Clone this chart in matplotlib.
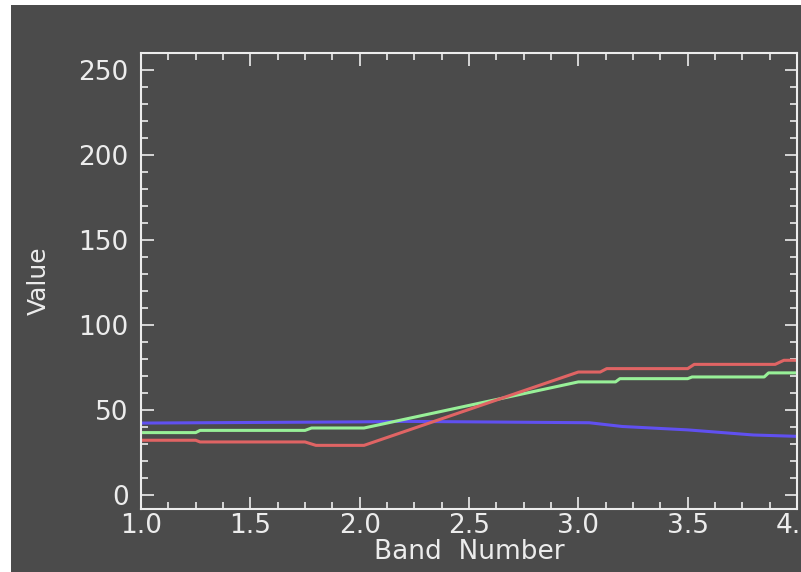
import matplotlib
matplotlib.use("Agg")
import matplotlib.pyplot as plt
from matplotlib.patches import Rectangle
from matplotlib.ticker import MultipleLocator

# spectral profiles
red_x = [1.0, 1.25, 1.27, 1.75, 1.8, 2.02, 3.0, 3.1, 3.13, 3.5, 3.53, 3.9, 3.94, 4.0]
red_y = [32.4, 32.4, 31.4, 31.4, 29.4, 29.4, 72.5, 72.5, 74.5, 74.5, 77.0, 77.0, 79.4, 79.4]

green_x = [1.0, 1.25, 1.27, 1.75, 1.78, 2.02, 3.0, 3.17, 3.19, 3.5, 3.52, 3.85, 3.87, 4.0]
green_y = [36.9, 36.9, 38.2, 38.2, 39.6, 39.6, 66.7, 66.7, 68.6, 68.6, 69.6, 69.6, 72.0, 72.0]

blue_x = [1.0, 2.0, 2.2, 3.05, 3.2, 3.5, 3.8, 4.0]
blue_y = [42.5, 43.2, 43.5, 42.7, 40.5, 38.5, 35.5, 34.7]

bg = '#4b4b4b'
fg = '#ececec'

fig = plt.figure(figsize=(8.01, 5.72), dpi=100)
fig.patch.set_facecolor('white')
fig.patches.append(Rectangle((11 / 801, 0), 790 / 801, 567 / 572,
                             transform=fig.transFigure, facecolor=bg,
                             edgecolor='none', zorder=0))

ax = fig.add_axes([141 / 801, 63 / 572, 656 / 801, 456 / 572])
ax.set_zorder(2)
ax.set_facecolor(bg)

ax.plot(blue_x, blue_y, color='#6050f0', lw=2.2)
ax.plot(green_x, green_y, color='#98f098', lw=2.2)
ax.plot(red_x, red_y, color='#e06464', lw=2.2)

ax.set_xlim(1.0, 4.0)
ax.set_ylim(-8, 260)
ax.xaxis.set_major_locator(MultipleLocator(0.5))
ax.xaxis.set_minor_locator(MultipleLocator(0.125))
ax.yaxis.set_major_locator(MultipleLocator(50))
ax.yaxis.set_minor_locator(MultipleLocator(10))
ax.xaxis.set_major_formatter(lambda v, p: f'{v:.1f}')
ax.yaxis.set_major_formatter(lambda v, p: f'{v:.0f}')

for s in ax.spines.values():
    s.set_color(fg)
    s.set_linewidth(1.5)

ax.tick_params(which='both', direction='in', top=True, right=True,
               color=fg, width=1.2)
ax.tick_params(which='major', length=9)
ax.tick_params(which='minor', length=5)
ax.tick_params(axis='y', labelsize=19, labelcolor=fg, pad=9)
ax.tick_params(axis='x', labelsize=19, labelcolor=fg, pad=3)

ax.set_xlabel('Band  Number', fontsize=19, color=fg, labelpad=0)
ax.set_ylabel('Value', fontsize=18, color=fg, labelpad=20)

fig.savefig('out.png', dpi=100)
